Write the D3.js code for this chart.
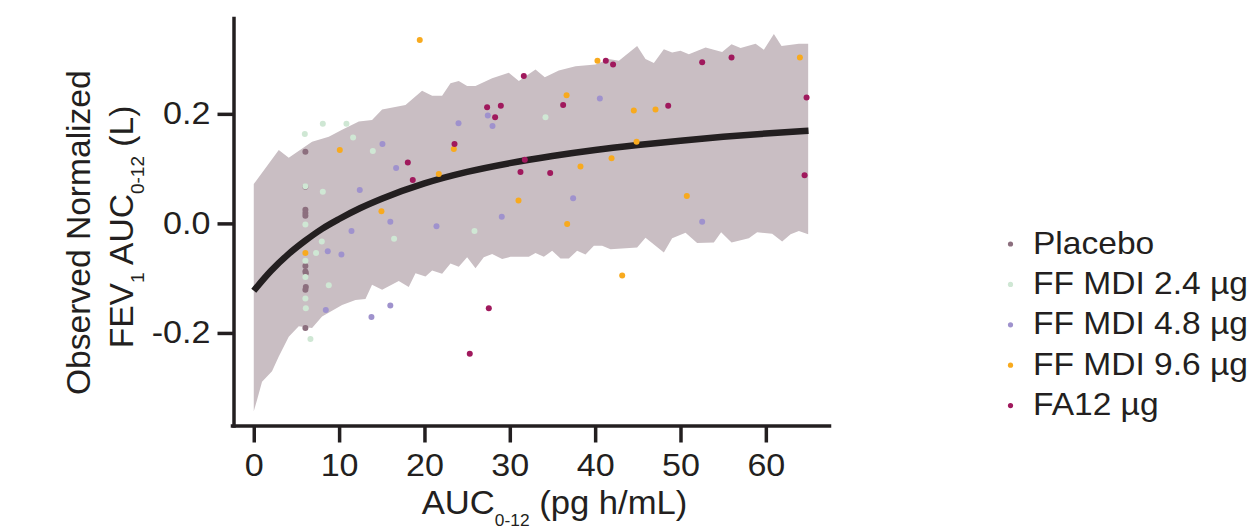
<!DOCTYPE html>
<html>
<head>
<meta charset="utf-8">
<script src="https://cdn.jsdelivr.net/npm/d3@7"></script>
<style>
  html, body { margin: 0; padding: 0; background: #ffffff; }
  svg { display: block; font-family: "Liberation Sans", Arial, Helvetica, sans-serif; }
</style>
</head>
<body>
<svg id="chart" width="1253" height="530"></svg>
<script>
// ---------------- data ----------------
const groups = ["Placebo", "FF MDI 2.4 µg", "FF MDI 4.8 µg", "FF MDI 9.6 µg", "FA12 µg"];
const groupColors = ["#8c6f7e", "#cfe7d4", "#9f92cd", "#f8aa1e", "#a0195d"];

const placebo = [[6.05,0.131],[6.05,0.067],[6.05,0.025],[6.05,0.019],[6.05,0.014],[6.05,-0.078],[6.05,-0.088],[6.1,-0.091],[6.1,-0.116],[6.05,-0.121],[6.05,-0.191]];
const ff24 = [[5.98,0.163],[8.09,0.182],[10.86,0.182],[11.64,0.157],[13.95,0.132],[6.05,0.068],[8.09,0.058],[6.05,-0.002],[16.44,-0.028],[7.97,-0.033],[7.3,-0.054],[6.05,-0.068],[6.05,-0.098],[8.79,-0.113],[6.05,-0.137],[6.1,-0.155],[6.64,-0.211],[34.18,0.194],[25.86,-0.014]];
const ff48 = [[15.08,0.145],[16.68,0.101],[12.42,0.061],[16.0,0.003],[11.45,-0.014],[8.67,-0.051],[10.27,-0.057],[8.44,-0.158],[16.0,-0.150],[13.79,-0.171],[40.55,0.228],[27.42,0.197],[27.97,0.178],[23.99,0.183],[37.42,0.046],[29.06,0.012],[21.41,-0.005],[52.54,0.003]];
const ff96 = [[19.45,0.335],[10.08,0.134],[14.96,0.022],[6.05,-0.054],[36.65,0.234],[40.27,0.297],[23.44,0.136],[21.68,0.090],[38.28,0.104],[41.92,0.119],[31.02,0.042],[36.72,-0.001],[63.99,0.303],[44.53,0.206],[47.07,0.208],[44.85,0.149],[50.74,0.050],[43.17,-0.095]];
const fa12 = [[18.05,0.111],[18.63,0.079],[31.64,0.269],[36.25,0.216],[41.25,0.297],[42.1,0.290],[27.34,0.212],[28.95,0.215],[28.28,0.194],[23.52,0.145],[31.76,0.116],[31.25,0.094],[34.73,0.092],[27.54,-0.155],[25.31,-0.238],[52.54,0.294],[55.98,0.303],[64.77,0.230],[48.56,0.215],[64.54,0.088]];

// model prediction (median)
const curveX = [0, 2, 4, 6, 8, 10, 12.5, 15, 20, 25, 30, 35, 40, 45, 50, 55, 60, 65];
const curveY = [-0.123, -0.087, -0.057, -0.032, -0.010, 0.008, 0.028, 0.045, 0.073, 0.094, 0.110, 0.123, 0.134, 0.143, 0.151, 0.158, 0.164, 0.169];

// prediction interval: upper bound
const upperX = [0, 2.93, 4.10, 6.83, 8.79, 10.35, 12.31, 13.86, 15.04, 17.78, 19.72, 20.9, 22.07, 23.05, 24.02, 25.0, 25.98, 27.93, 29.88, 31.06, 33.01, 34.1, 35.74, 37.7, 40.04, 41.6, 42.78, 44.92, 45.9, 46.88, 48.05, 49.02, 50.0, 50.98, 52.94, 54.88, 55.98, 57.04, 58.8, 59.77, 60.94, 61.84, 63.87, 64.96];
const upperY = [0.072, 0.134, 0.120, 0.149, 0.158, 0.171, 0.186, 0.189, 0.208, 0.216, 0.242, 0.233, 0.233, 0.256, 0.260, 0.251, 0.251, 0.265, 0.275, 0.260, 0.281, 0.267, 0.279, 0.287, 0.290, 0.300, 0.297, 0.324, 0.300, 0.293, 0.318, 0.312, 0.315, 0.309, 0.321, 0.313, 0.327, 0.320, 0.328, 0.317, 0.346, 0.324, 0.328, 0.328];
// prediction interval: lower bound
const lowerX = [0, 0.39, 0.97, 2.14, 2.93, 4.10, 5.27, 6.83, 8.0, 10.35, 11.92, 13.09, 13.86, 15.04, 16.99, 18.16, 18.95, 20.12, 20.9, 22.07, 23.05, 24.02, 25.0, 25.98, 26.95, 27.93, 29.1, 30.08, 32.23, 33.01, 33.99, 34.96, 35.94, 36.92, 37.89, 38.87, 39.85, 40.82, 41.8, 44.92, 45.9, 48.05, 49.02, 50.59, 51.95, 53.91, 54.76, 55.98, 58.01, 58.98, 60.74, 61.91, 62.9, 63.87, 64.96];
const lowerY = [-0.343, -0.322, -0.289, -0.270, -0.243, -0.207, -0.188, -0.191, -0.170, -0.149, -0.140, -0.138, -0.112, -0.121, -0.105, -0.116, -0.091, -0.097, -0.086, -0.092, -0.073, -0.079, -0.062, -0.082, -0.062, -0.056, -0.065, -0.061, -0.061, -0.054, -0.061, -0.050, -0.064, -0.064, -0.050, -0.057, -0.041, -0.041, -0.047, -0.044, -0.026, -0.053, -0.027, -0.017, -0.036, -0.035, -0.016, -0.035, -0.027, -0.016, -0.019, -0.033, -0.020, -0.014, -0.020];

const xTicks = [0, 10, 20, 30, 40, 50, 60];
const yTicks = [-0.2, 0.0, 0.2];

// ---------------- drawing ----------------
const ink = "#231f20";
const svg = d3.select("#chart");

const x = d3.scaleLinear().domain([-2.55, 67.4]).range([232, 829]);
const y = d3.scaleLinear().domain([-0.369, 0.375]).range([425.5, 18]);

// band
const upperPts = upperX.map((v, i) => [v, upperY[i]]);
const lowerPts = lowerX.map((v, i) => [v, lowerY[i]]);
const bandPts = upperPts.concat(lowerPts.slice().reverse());
svg.append("path")
  .attr("d", d3.line().x(d => x(d[0])).y(d => y(d[1]))(bandPts) + "Z")
  .attr("fill", "#c9bec3")
  .attr("stroke", "none");

// curve
const curvePts = curveX.map((v, i) => [v, curveY[i]]);
svg.append("path")
  .attr("d", d3.line().x(d => x(d[0])).y(d => y(d[1])).curve(d3.curveMonotoneX)(curvePts))
  .attr("fill", "none")
  .attr("stroke", ink)
  .attr("stroke-width", 6.5)
  .attr("stroke-linecap", "butt");

// points
const series = [placebo, ff24, ff48, ff96, fa12];
series.forEach((pts, gi) => {
  svg.append("g").selectAll("circle").data(pts).join("circle")
    .attr("cx", d => x(d[0]))
    .attr("cy", d => y(d[1]))
    .attr("r", 3)
    .attr("fill", groupColors[gi]);
});

function stretchText(sel, sx) {
  sel.each(function () {
    const t = d3.select(this);
    const tx = +t.attr("x") || 0, ty = +t.attr("y") || 0;
    t.attr("x", 0).attr("y", 0).attr("transform", `translate(${tx},${ty}) scale(${sx},1)`);
  });
}

// axes
const xAxis = d3.axisBottom(x).tickValues(xTicks).tickFormat(d => d3.format("d")(d))
  .tickSizeInner(17).tickSizeOuter(0).tickPadding(11.5);
const gx = svg.append("g").attr("transform", "translate(0,425.5)").call(xAxis);
const yAxis = d3.axisLeft(y).tickValues(yTicks).tickFormat(d => d.toFixed(1))
  .tickSizeInner(16).tickSizeOuter(0).tickPadding(7);
const gy = svg.append("g").attr("transform", "translate(233.5,0)").call(yAxis);

[gx, gy].forEach(g => {
  g.select(".domain").attr("stroke", ink).attr("stroke-width", 3.5).attr("stroke-linecap", "square");
  g.selectAll(".tick line").attr("stroke", ink).attr("stroke-width", 3.5);
  g.selectAll(".tick text").attr("fill", ink).attr("font-size", 31)
    .attr("font-family", "'Liberation Sans', Arial, Helvetica, sans-serif");
  stretchText(g.selectAll(".tick text"), 1.1);
});

// x title
const xt = svg.append("text")
  .attr("transform", "translate(421.7,514) scale(1.05,1)")
  .attr("fill", ink).attr("font-size", 33);
xt.append("tspan").text("AUC");
xt.append("tspan").attr("font-size", 16.5).attr("dy", 12).text("0-12");
xt.append("tspan").attr("dy", -12).text(" (pg h/mL)");

// y title
svg.append("text")
  .attr("transform", "translate(90,395) rotate(-90)")
  .attr("fill", ink).attr("font-size", 33.6)
  .text("Observed Normalized");
const yt2 = svg.append("text")
  .attr("transform", "translate(133,348.3) rotate(-90)")
  .attr("fill", ink).attr("font-size", 33.6);
yt2.append("tspan").text("FEV");
yt2.append("tspan").attr("font-size", 19).attr("dy", 11).text("1");
yt2.append("tspan").attr("dy", -11).text(" AUC");
yt2.append("tspan").attr("font-size", 19).attr("dy", 11).text("0-12");
yt2.append("tspan").attr("dy", -11).text(" (L)");

// legend
const legend = svg.append("g");
groups.forEach((name, i) => {
  const base = 253.5 + i * 40.4;
  legend.append("circle").attr("cx", 1010.5).attr("cy", base - 9.5).attr("r", 2.6).attr("fill", groupColors[i]);
  legend.append("text")
    .attr("transform", `translate(1033,${base}) scale(1.1,1)`)
    .attr("fill", ink).attr("font-size", 30.5)
    .text(name);
});
</script>
</body>
</html>
